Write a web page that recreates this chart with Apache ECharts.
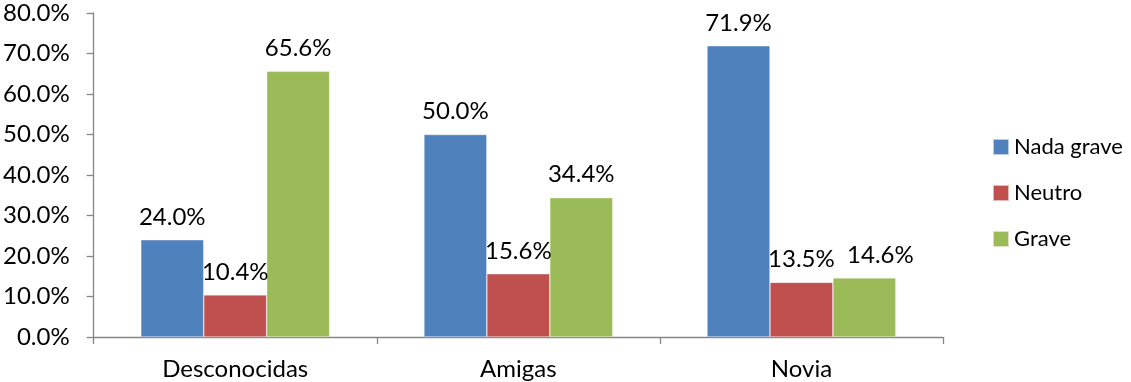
<!DOCTYPE html>
<html>
<head>
<meta charset="utf-8">
<script src="https://cdn.jsdelivr.net/npm/echarts@6/dist/echarts.min.js"></script>
<style>
  html, body { margin: 0; padding: 0; background: #fff; }
  #chart { width: 1131px; height: 382px; }
</style>
</head>
<body>
<div id="chart"></div>
<script>
// Categories and percentage values per series
const categories = ['Desconocidas', 'Amigas', 'Novia'];
const nadaGrave = [24.0, 50.0, 71.9];
const neutro = [10.4, 15.6, 13.5];
const grave = [65.6, 34.4, 14.6];
const yTicks = [0, 10, 20, 30, 40, 50, 60, 70, 80];

const FONT = 'Lato, "Open Sans", sans-serif';
const FS = 24;
const axisGray = '#868686';

function barSeries(name, data, color, labelShift) {
  return {
    name: name,
    type: 'bar',
    // labelShift: per-point horizontal nudge of the value label, to keep neighbours apart
    data: data.map((v, i) => (labelShift && labelShift[i])
      ? { value: v, label: { offset: [labelShift[i], 0] } }
      : v),
    barGap: '0%',
    barCategoryGap: '33.3%',
    itemStyle: { color: color, borderColor: 'rgba(255,255,255,0.6)', borderWidth: 0.6 },
    label: {
      show: true,
      position: 'top',
      distance: 11,
      color: '#000',
      fontFamily: FONT,
      fontSize: FS,
      formatter: p => p.value.toFixed(1) + '%'
    }
  };
}

const chart = echarts.init(document.getElementById('chart'), null, { renderer: 'canvas' });
chart.setOption({
  animation: false,
  backgroundColor: '#fff',
  grid: { left: 93, right: 188, top: 13, bottom: 45, containLabel: false },
  legend: {
    orient: 'vertical',
    left: 987,
    top: 131,
    itemWidth: 16,
    itemHeight: 16,
    itemGap: 24,
    icon: 'rect',
    textStyle: { fontFamily: FONT, fontSize: 22, color: '#000' },
    data: ['Nada grave', 'Neutro', 'Grave']
  },
  xAxis: {
    type: 'category',
    data: categories,
    axisLine: { lineStyle: { color: axisGray, width: 1.3 } },
    axisTick: { show: true, length: 7, alignWithLabel: false, lineStyle: { color: axisGray, width: 1.3 } },
    axisLabel: { margin: 20, color: '#000', fontFamily: FONT, fontSize: FS }
  },
  yAxis: {
    type: 'value',
    min: yTicks[0],
    max: yTicks[yTicks.length - 1],
    interval: 10,
    axisLine: { show: true, lineStyle: { color: axisGray, width: 1.3 } },
    axisTick: { show: true, length: 7, inside: false, lineStyle: { color: axisGray, width: 1.3 } },
    splitLine: { show: false },
    axisLabel: {
      margin: 24,
      color: '#000',
      fontFamily: FONT,
      fontSize: FS,
      formatter: v => v.toFixed(1) + '%'
    }
  },
  series: [
    barSeries('Nada grave', nadaGrave, '#4f81bd'),
    barSeries('Neutro', neutro, '#c0504d'),
    barSeries('Grave', grave, '#9bbb59', [0, 0, 16])
  ]
});
</script>
</body>
</html>
